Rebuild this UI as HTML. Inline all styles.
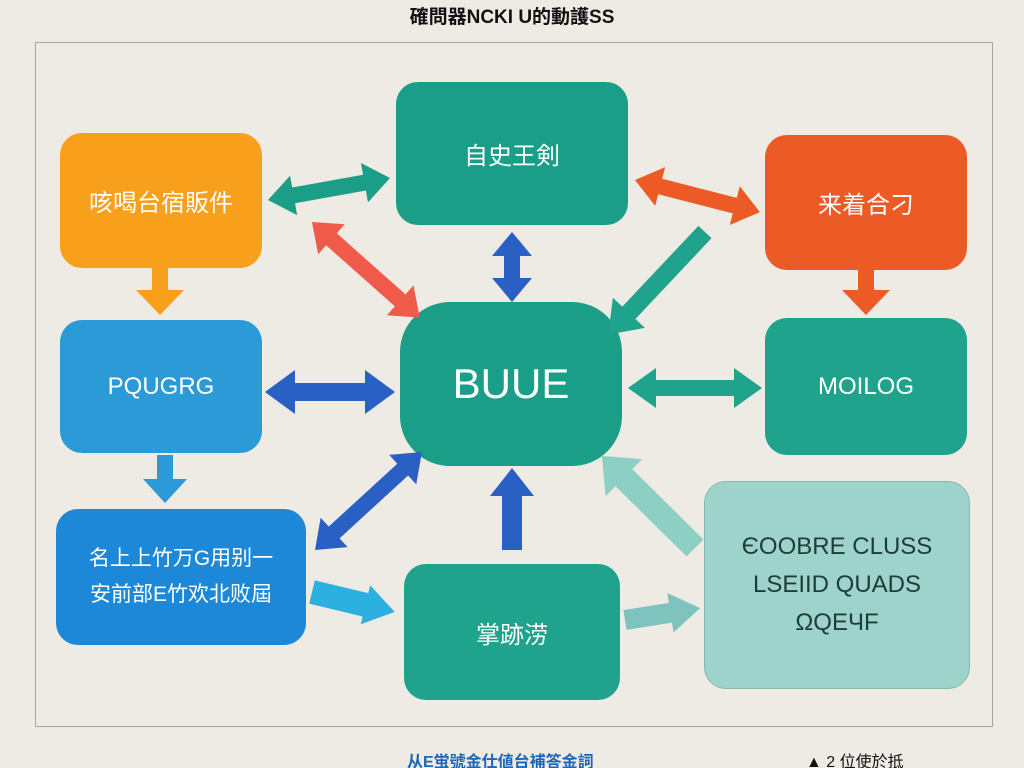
<!DOCTYPE html>
<html><head><meta charset="utf-8"><style>
html,body{margin:0;width:1024px;height:768px;overflow:hidden}
body{background:#eeeae4;position:relative;font-family:"Liberation Sans","Noto Sans CJK SC",sans-serif}
.b{position:absolute;border-radius:22px;display:flex;align-items:center;justify-content:center;text-align:center;color:#fff;font-size:24px}
</style></head><body>
<div style="position:absolute;left:35px;top:42px;width:956px;height:683px;border:1.5px solid #a9a6a2"></div>
<div style="position:absolute;left:0;width:1024px;top:2px;text-align:center;font-size:19px;font-weight:bold;color:#111">確問器NCKI U的動護SS</div>
<div style="position:absolute;left:407px;top:748px;font-size:16px;font-weight:bold;color:#1e66b8">从E蛍號金仕値台補答金詞</div>
<div style="position:absolute;left:806px;top:748px;font-size:16px;color:#111">▲ 2 位使於抵</div>
<div class="b" style="left:396px;top:82px;width:232px;height:143px;background:#1a9e87">自史王剣</div>
<div class="b" style="left:60px;top:133px;width:202px;height:135px;background:#f8a01c">咳喝台宿販件</div>
<div class="b" style="left:765px;top:135px;width:202px;height:135px;background:#ec5a26">来着合刁</div>
<div class="b" style="left:60px;top:320px;width:202px;height:133px;background:#2b9ad6">PQUGRG</div>
<div class="b" style="left:400px;top:302px;width:222px;height:164px;background:#1a9e87;border-radius:50px;font-size:42px">BUUE</div>
<div class="b" style="left:765px;top:318px;width:202px;height:137px;background:#1fa38c">MOILOG</div>
<div class="b" style="left:56px;top:509px;width:250px;height:136px;background:#1e88d8;font-size:21px;line-height:36px">名上上竹万G用别一<br>安前部E竹欢北败屆</div>
<div class="b" style="left:404px;top:564px;width:216px;height:136px;background:#1fa38c">掌跡涝</div>
<div class="b" style="left:704px;top:481px;width:264px;height:206px;background:#9dd3ca;color:#1e3d3a;font-size:24px;line-height:38px;border:1.5px solid #86b8b0">ЄOOBRE CLUSS<br>LSEIID QUADS<br>ΩQEЧF</div>
<svg width="1024" height="768" style="position:absolute;left:0;top:0">
<g transform="translate(268,200) rotate(-10.2)"><polygon fill="#1a9e87" points="0,0 26,-20 26,-8 98,-8 98,-20 124,0 98,20 98,8 26,8 26,20"/></g>
<g transform="translate(312,222) rotate(41.6)"><polygon fill="#ef5a4a" points="0,0 26,-20 26,-8 118,-8 118,-20 144,0 118,20 118,8 26,8 26,20"/></g>
<g transform="translate(512,232) rotate(90)"><polygon fill="#2a5fc4" points="0,0 24,-20 24,-8 46,-8 46,-20 70,0 46,20 46,8 24,8 24,20"/></g>
<g transform="translate(635,180) rotate(14.4)"><polygon fill="#ec5a26" points="0,0 26,-20 26,-8 103,-8 103,-20 129,0 103,20 103,8 26,8 26,20"/></g>
<g transform="translate(705,232) rotate(133.3)"><polygon fill="#1fa38c" points="0,-9 111,-9 111,-22 141,0 111,22 111,9 0,9"/></g>
<g transform="translate(160,268) rotate(90)"><polygon fill="#f8a01c" points="0,-8 22,-8 22,-24 47,0 22,24 22,8 0,8"/></g>
<g transform="translate(866,270) rotate(90)"><polygon fill="#ec5a26" points="0,-8 20,-8 20,-24 45,0 20,24 20,8 0,8"/></g>
<g transform="translate(265,392)"><polygon fill="#2a5fc4" points="0,0 30,-22 30,-9 100,-9 100,-22 130,0 100,22 100,9 30,9 30,22"/></g>
<g transform="translate(628,388)"><polygon fill="#1fa38c" points="0,0 28,-20 28,-8 106,-8 106,-20 134,0 106,20 106,8 28,8 28,20"/></g>
<g transform="translate(165,455) rotate(90)"><polygon fill="#2b9ad6" points="0,-8 24,-8 24,-22 48,0 24,22 24,8 0,8"/></g>
<g transform="translate(315,550) rotate(-42.5)"><polygon fill="#2a5fc4" points="0,0 26,-20 26,-8 119,-8 119,-20 145,0 119,20 119,8 26,8 26,20"/></g>
<g transform="translate(512,550) rotate(-90)"><polygon fill="#2a5fc4" points="0,-10 54,-10 54,-22 82,0 54,22 54,10 0,10"/></g>
<g transform="translate(695,548) rotate(-135.3)"><polygon fill="#8ecfc4" points="0,-12 100,-12 100,-26 131,0 100,26 100,12 0,12"/></g>
<g transform="translate(312,592) rotate(13.5)"><polygon fill="#2bb0e0" points="0,-12 55,-12 55,-20 85,0 55,20 55,12 0,12"/></g>
<g transform="translate(625,620) rotate(-9)"><polygon fill="#7fc3bf" points="0,-10 46,-10 46,-20 76,0 46,20 46,10 0,10"/></g>
</svg>
</body></html>
